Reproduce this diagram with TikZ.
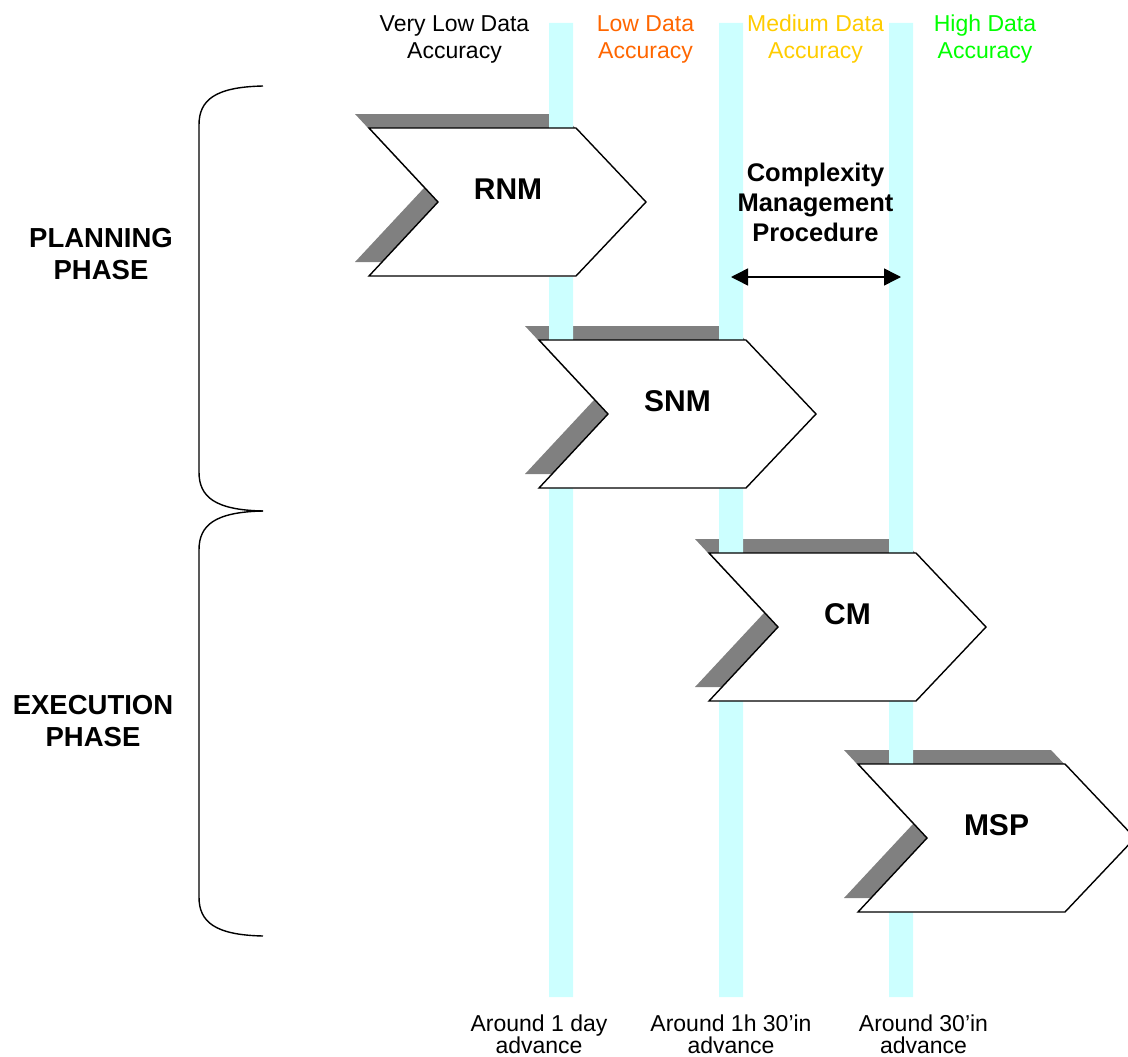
\documentclass[tikz,border=0pt]{standalone}
\usepackage{fontspec}
\setmainfont{Liberation Sans}
\usetikzlibrary{arrows.meta}
\definecolor{barcyan}{HTML}{CCFFFF}
\definecolor{shadowgray}{HTML}{808080}
\definecolor{acclow}{HTML}{FF6600}
\definecolor{accmed}{HTML}{FFCC00}
\definecolor{acchigh}{HTML}{00FF00}
% centred lines whose baseline is the baseline of the first line
\newcommand\stackc[1]{\vtop{\halign{\hfil##\hfil\cr#1\crcr}}}
\begin{document}
\begin{tikzpicture}[x=1pt,y=-1pt,
  chev/.style 2 args={insert path={(#1,#2) -- ++(207,0) -- ++(70,74) -- ++(-70,74) -- ++(-207,0) -- ++(69,-74) -- cycle}},
  shadowshape/.style={fill=shadowgray, draw=none},
  chevshape/.style={fill=white, draw=black, line width=1.4pt, line join=miter},
  timebar/.style={fill=barcyan, draw=none},
  chevlbl/.style={font=\fontsize{30}{35}\selectfont\bfseries, inner sep=0},
  phaselbl/.style={font=\fontsize{27.5}{32}\selectfont\bfseries, inner sep=0, anchor=base},
  acclbl/.style={font=\fontsize{23}{26.6}\selectfont, inner sep=0, anchor=base},
  timelbl/.style={font=\fontsize{23}{21.5}\selectfont, inner sep=0, anchor=base},
  proclbl/.style={font=\fontsize{25.5}{30}\selectfont\bfseries, inner sep=0, anchor=base},
  bracket/.style={draw=black, line width=1.4pt},
  twoway/.style={line width=1.5pt, {Triangle[length=17pt,width=17pt]}-{Triangle[length=17pt,width=17pt]}}
]
\useasboundingbox (0,0) rectangle (1128,1057);

% centre lines of the three time bars
\coordinate (bar1) at (561,23);
\coordinate (bar2) at (731,23);
\coordinate (bar3) at (901,23);

% drop shadows of the process chevrons
\fill[shadowshape] [chev={355}{114}];
\fill[shadowshape] [chev={525}{326}];
\fill[shadowshape] [chev={695}{539}];
\fill[shadowshape] [chev={844}{750}];

% time bars, broken where a chevron crosses them
\fill[timebar] (549,23) rectangle (573,128)  (549,277) rectangle (573,340)  (549,488) rectangle (573,997);
\fill[timebar] (719,23) rectangle (743,340)  (719,488) rectangle (743,553)  (719,701) rectangle (743,997);
\fill[timebar] (889,23) rectangle (913,553)  (889,701) rectangle (913,764)  (889,912) rectangle (913,997);

% process chevrons
\path[chevshape] [chev={369}{128}];
\path[chevshape] [chev={539}{340}];
\path[chevshape] [chev={709}{553}];
\path[chevshape] [chev={858}{764}];
\node[chevlbl] (rnm) at (508,189.5) {RNM};
\node[chevlbl] (snm) at (677.5,401.5) {SNM};
\node[chevlbl] (cm)  at (847.5,614.5) {CM};
\node[chevlbl] (msp) at (996.5,825.5) {MSP};

% phase brackets
\path[bracket] (263,86) .. controls (215,87) and (199,100) .. (199,125)
  -- (199,472) .. controls (199,497) and (215,510) .. (263,511);
\path[bracket] (263,511) .. controls (215,512) and (199,525) .. (199,550)
  -- (199,897) .. controls (199,922) and (215,935) .. (263,936);
\node[phaselbl] (planning) at (101,247.7) {\stackc{PLANNING\cr PHASE}};
\node[phaselbl] (execution) at (93,714.3) {\stackc{EXECUTION\cr PHASE}};

% data accuracy headings
\node[acclbl] (acc0) at (454.5,31.7) {\stackc{Very Low Data\cr Accuracy}};
\node[acclbl, text=acclow] (acc1) at (645.5,31.7) {\stackc{Low Data\cr Accuracy}};
\node[acclbl, text=accmed] (acc2) at (815.5,31.7) {\stackc{Medium Data\cr Accuracy}};
\node[acclbl, text=acchigh] (acc3) at (985,31.7) {\stackc{High Data\cr Accuracy}};

% time horizons
\node[timelbl] (t1) at (539,1031.5) {\stackc{Around 1 day\cr advance}};
\node[timelbl] (t2) at (731,1031.5) {\stackc{Around 1h 30’in\cr advance}};
\node[timelbl] (t3) at (923.5,1031.5) {\stackc{Around 30’in\cr advance}};

% complexity management procedure span
\node[proclbl] (cmp) at (815.5,181.7) {\stackc{Complexity\cr Management\cr Procedure}};
\coordinate (spanlevel) at (0,277);
\draw[twoway] (bar2 |- spanlevel) -- (bar3 |- spanlevel);
\end{tikzpicture}
\end{document}
